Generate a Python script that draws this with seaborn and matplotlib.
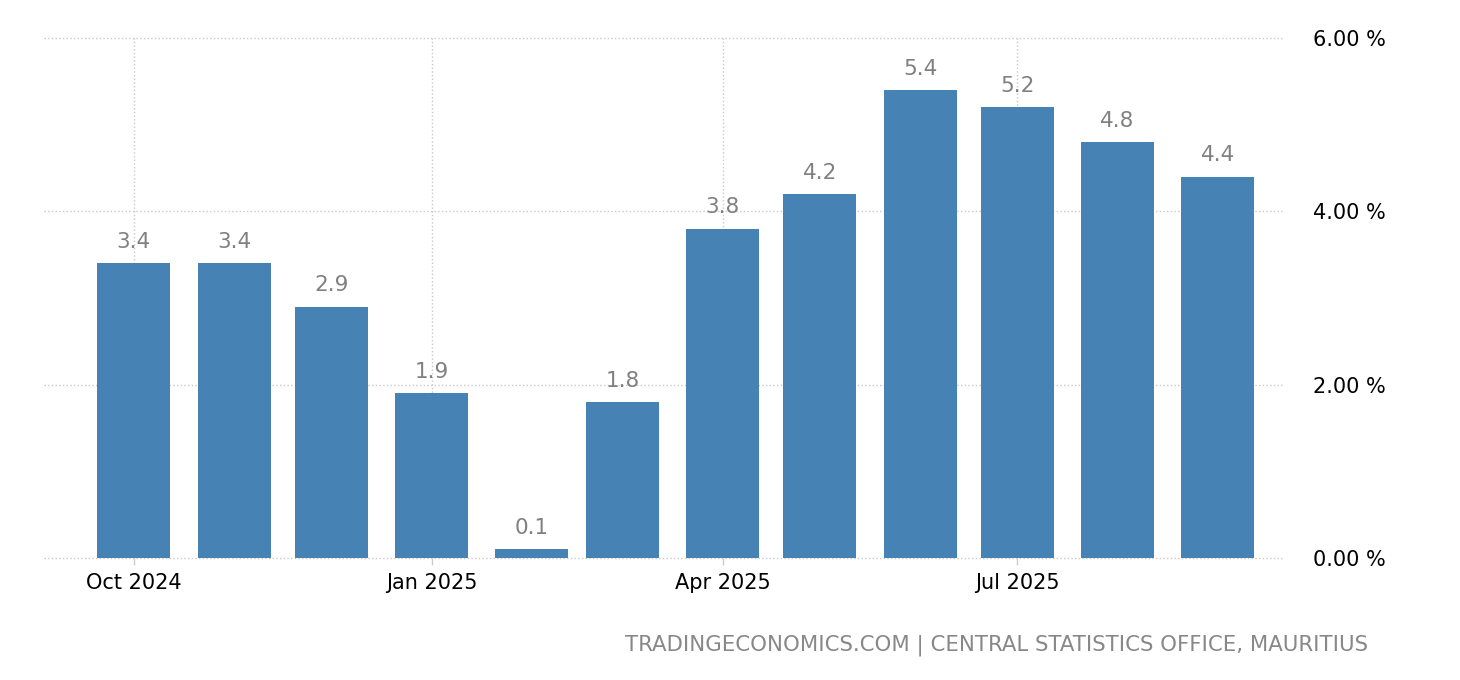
import matplotlib
matplotlib.use('Agg')
import matplotlib.pyplot as plt
import matplotlib.dates as mdates
import matplotlib.ticker as mticker
import pandas as pd
import seaborn as sns

# Monthly inflation rate, Mauritius
months = ['2024-10-01', '2024-11-01', '2024-12-01', '2025-01-01',
          '2025-02-01', '2025-03-01', '2025-04-01', '2025-05-01',
          '2025-06-01', '2025-07-01', '2025-08-01', '2025-09-01']
rates = [3.4, 3.4, 2.9, 1.9, 0.1, 1.8, 3.8, 4.2, 5.4, 5.2, 4.8, 4.4]
y_ticks = [0, 2, 4, 6]
source = 'TRADINGECONOMICS.COM | CENTRAL STATISTICS OFFICE, MAURITIUS'

df = pd.DataFrame({'month': pd.to_datetime(months), 'rate': rates})
df['x'] = mdates.date2num(df['month'])

sns.set_theme(style='white')
plt.rcParams['font.family'] = ['DejaVu Sans']

W, H = 1460, 680
fig = plt.figure(figsize=(W / 100, H / 100), dpi=100)
ax = fig.add_axes([44 / W, 1 - 558 / H, (1282 - 44) / W, (558 - 38) / H])

sns.barplot(data=df, x='x', y='rate', native_scale=True, width=0.806,
            color='#4682B4', saturation=1, errorbar=None, linewidth=0, ax=ax)

# value labels above bars
for xv, v in zip(df['x'], df['rate']):
    ax.annotate(f'{v:.1f}', (xv, v), xytext=(0, 11), textcoords='offset points',
                ha='center', va='baseline', color='#808080', fontsize=15.5)

ax.set_xlim(df['x'].iloc[0] - 27.8, df['x'].iloc[0] + 354.9)
ax.set_ylim(0, 6)
ax.xaxis.set_major_locator(mdates.MonthLocator(bymonth=[1, 4, 7, 10]))
ax.xaxis.set_major_formatter(mdates.DateFormatter('%b %Y'))
ax.set_yticks(y_ticks)
ax.yaxis.set_major_formatter(mticker.FormatStrFormatter('%.2f %%'))
ax.yaxis.tick_right()
ax.set_xlabel('')
ax.set_ylabel('')

ax.tick_params(axis='x', length=5, width=1, color='#cccccc', pad=6,
               labelsize=15, labelcolor='black', bottom=True)
ax.tick_params(axis='y', length=0, pad=22, labelsize=15, labelcolor='black')

ax.grid(True, linestyle=':', color='#c8c8c8', linewidth=1)
ax.set_axisbelow(True)
for gl in ax.get_ygridlines() + ax.get_xgridlines():
    gl.set_clip_on(False)
for s in ax.spines.values():
    s.set_visible(False)

fig.text(1368 / W, 1 - 651 / H, source, ha='right', va='baseline',
         color='#888888', fontsize=15.3)

fig.savefig('out.png', dpi=100, facecolor='white')
